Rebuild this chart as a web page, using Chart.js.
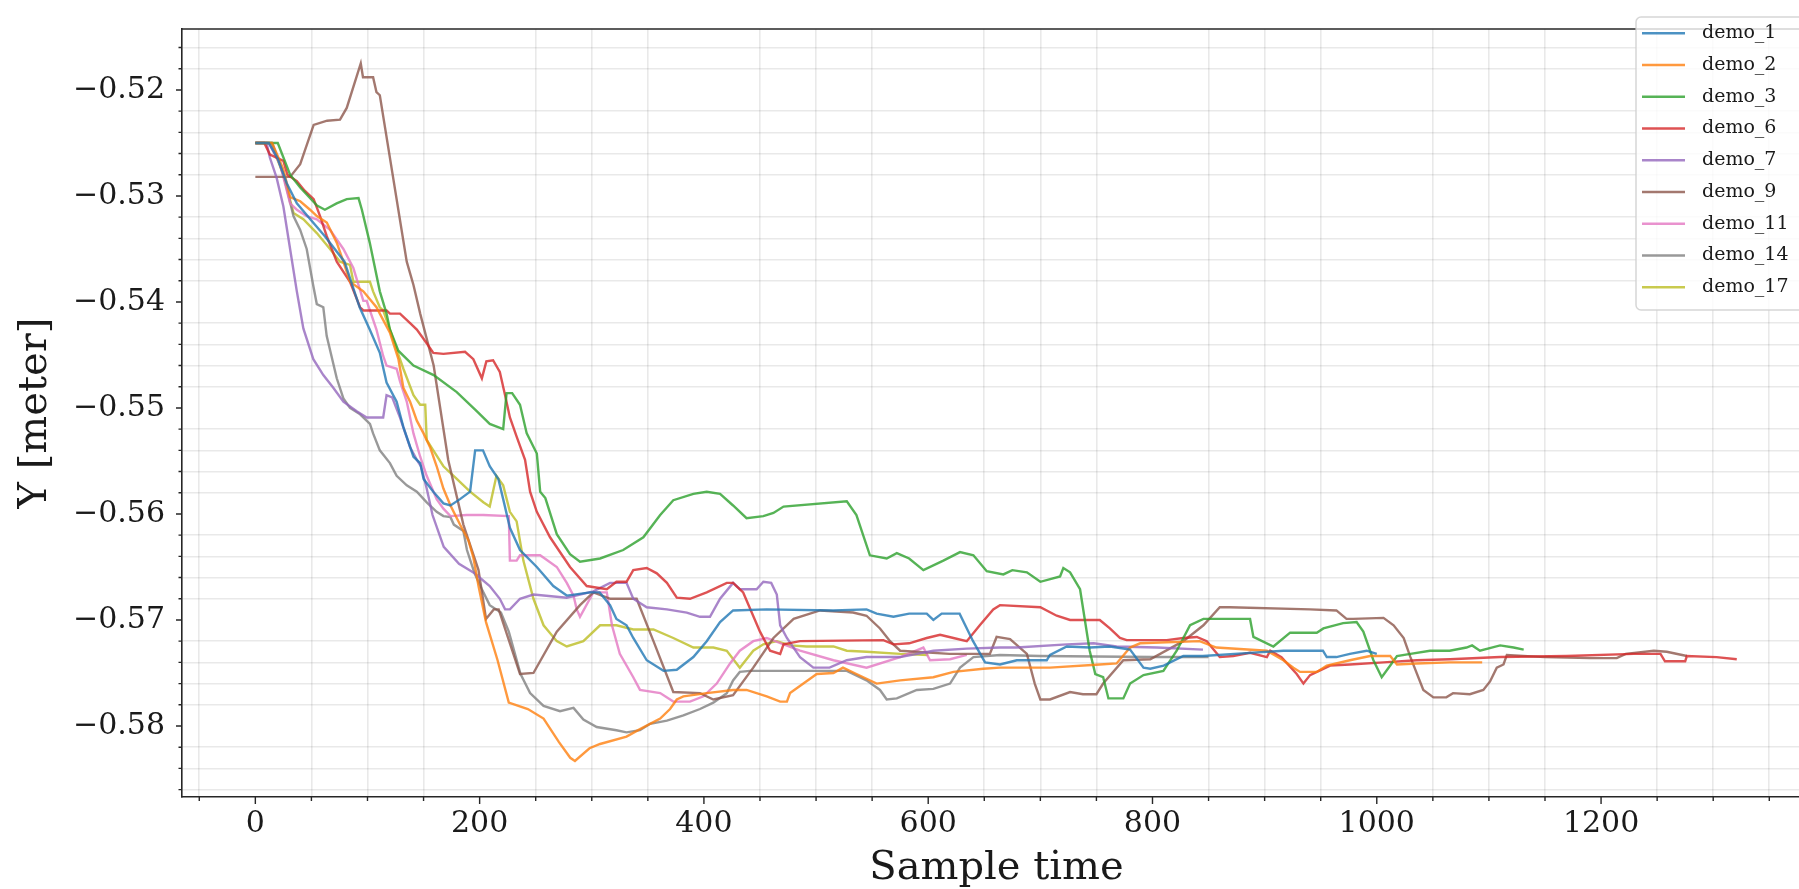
<!DOCTYPE html>
<html>
<head>
<meta charset="utf-8">
<title>Y position per demo</title>
<script src="https://cdn.jsdelivr.net/npm/chart.js@4.4.1/dist/chart.umd.min.js"></script>
<style>
  html, body { margin: 0; padding: 0; overflow: hidden; background: #ffffff; }
  #wrap { position: relative; width: 1811px; height: 889px; }
</style>
</head>
<body>
<div id="wrap"><canvas id="chart"></canvas></div>
<script>
// ---- tick labels ----
const xTickLabels = [0, 200, 400, 600, 800, 1000, 1200];
const yTickLabels = [-0.52, -0.53, -0.54, -0.55, -0.56, -0.57, -0.58];

// ---- series (sample time, Y in metres) ----
const demo1X = [0, 12, 20, 28, 37, 49, 62, 79.5, 93, 102, 111, 117, 126, 132, 141, 147, 150, 158.7, 167.7, 174, 182.5, 191.5, 196, 203, 209, 216.7, 221, 227, 236, 251, 265.7, 277.7, 298.5, 307, 316.3, 322, 331, 337, 349, 364, 375.8, 390.6, 402.5, 414.4, 426, 456, 515.5, 545, 554, 569, 583, 598.7, 604.6, 612, 628, 640, 650.7, 664, 679, 705.7, 708.6, 723.6, 744, 762, 780, 792, 798, 810, 827.5, 845, 887, 916.7, 946.5, 952, 955.4, 964, 976, 991, 1000];
const demo1Y = [-0.525, -0.525, -0.5265, -0.5288, -0.5307, -0.5322, -0.5338, -0.5362, -0.5405, -0.5426, -0.5448, -0.5476, -0.5494, -0.5518, -0.5546, -0.5552, -0.5567, -0.5579, -0.5590, -0.5592, -0.5586, -0.5579, -0.5540, -0.5540, -0.5555, -0.5567, -0.5586, -0.5613, -0.5634, -0.5650, -0.5668, -0.5677, -0.5674, -0.5674, -0.5686, -0.5699, -0.5705, -0.5717, -0.5738, -0.5748, -0.5747, -0.5735, -0.5720, -0.5702, -0.5691, -0.5690, -0.5691, -0.5690, -0.5694, -0.5697, -0.5694, -0.5694, -0.5700, -0.5694, -0.5694, -0.5720, -0.5740, -0.5742, -0.5738, -0.5738, -0.5733, -0.5725, -0.5726, -0.5725, -0.5728, -0.5745, -0.5746, -0.5743, -0.5734, -0.5734, -0.5731, -0.5729, -0.5729, -0.5729, -0.5735, -0.5735, -0.5732, -0.5729, -0.5732];

const demo2X = [0, 15, 25, 31, 40, 48.8, 54.8, 63.7, 72.6, 78.5, 84.4, 96.3, 108, 111, 120, 127.6, 132, 138, 144, 150, 155.8, 161.7, 167.7, 174, 182.5, 190, 194.4, 199, 205.7, 216, 226, 243, 257, 270.6, 280.8, 285, 298, 307.4, 331, 343, 361, 369.8, 375.8, 381.7, 402.5, 426, 438, 456, 468, 474, 476.8, 488.7, 500.6, 515.5, 524, 536, 554, 575, 604.6, 622.5, 649, 664, 708.6, 753, 768, 780, 789, 842, 857, 902, 916.7, 925.6, 931.6, 946.5, 955.4, 976, 994, 1012, 1018, 1035.6, 1065, 1094];
const demo2Y = [-0.525, -0.525, -0.5275, -0.5301, -0.5305, -0.5313, -0.5319, -0.5325, -0.5344, -0.5362, -0.5381, -0.5390, -0.5405, -0.5411, -0.5429, -0.5454, -0.5481, -0.5494, -0.5512, -0.5524, -0.5537, -0.5555, -0.5576, -0.5592, -0.5610, -0.5625, -0.5641, -0.5668, -0.5702, -0.5738, -0.5778, -0.5784, -0.5793, -0.5815, -0.5830, -0.5833, -0.5821, -0.5817, -0.5810, -0.5803, -0.5793, -0.5784, -0.5775, -0.5772, -0.5769, -0.5766, -0.5766, -0.5772, -0.5777, -0.5777, -0.5769, -0.5760, -0.5751, -0.5750, -0.5745, -0.5751, -0.5760, -0.5757, -0.5754, -0.5749, -0.5746, -0.5745, -0.5745, -0.5742, -0.5741, -0.5726, -0.5722, -0.5720, -0.5726, -0.5729, -0.5738, -0.5745, -0.5749, -0.5749, -0.5743, -0.5738, -0.5734, -0.5734, -0.5742, -0.5741, -0.5740, -0.5740];

const demo3X = [0, 20, 31, 40, 55, 62, 72.5, 81.5, 92, 95, 102, 111, 117, 120, 127.5, 141, 159, 179.6, 197.4, 209, 221, 224, 229, 236, 242, 251, 254, 258.6, 268.8, 280.6, 289.5, 307.4, 328, 346, 361, 372.7, 390.6, 402.5, 414.4, 426, 438, 453, 462, 471, 527.4, 536, 548, 563, 572, 583, 595.7, 613.5, 628.4, 640.3, 652.2, 667, 675, 688, 700, 717.6, 720.5, 726.5, 735.4, 744, 749, 756, 760.7, 774, 780, 792, 809.7, 821.6, 833.5, 845.4, 887, 890, 907.8, 922.7, 946.5, 952.4, 970, 982, 988, 997, 1004.4, 1012, 1018, 1030, 1047.5, 1065, 1080, 1085, 1092, 1110, 1122, 1131];
const demo3Y = [-0.525, -0.525, -0.5280, -0.5292, -0.5309, -0.5313, -0.5307, -0.5303, -0.5302, -0.5313, -0.5344, -0.5390, -0.5411, -0.5426, -0.5446, -0.5460, -0.5469, -0.5485, -0.5503, -0.5515, -0.5520, -0.5486, -0.5486, -0.5497, -0.5524, -0.5543, -0.5579, -0.5585, -0.5619, -0.5638, -0.5645, -0.5642, -0.5634, -0.5622, -0.5601, -0.5587, -0.5581, -0.5579, -0.5581, -0.5592, -0.5604, -0.5602, -0.5599, -0.5593, -0.5588, -0.5601, -0.5639, -0.5642, -0.5637, -0.5642, -0.5653, -0.5644, -0.5636, -0.5639, -0.5654, -0.5657, -0.5653, -0.5655, -0.5664, -0.5659, -0.5651, -0.5655, -0.5671, -0.5729, -0.5751, -0.5754, -0.5774, -0.5774, -0.5760, -0.5752, -0.5748, -0.5729, -0.5705, -0.5699, -0.5699, -0.5716, -0.5725, -0.5712, -0.5712, -0.5708, -0.5703, -0.5702, -0.5711, -0.5738, -0.5754, -0.5743, -0.5734, -0.5732, -0.5729, -0.5729, -0.5726, -0.5724, -0.5729, -0.5724, -0.5726, -0.5728];

const demo6X = [0, 8, 13, 25, 28.6, 37, 44, 52, 57.7, 63.7, 72.6, 84.4, 93.4, 96.3, 117, 120, 129, 138, 144, 152.8, 158.7, 167.7, 187, 194.4, 202, 206, 212, 218, 222.7, 227, 233, 240.5, 245, 251, 262.8, 280.6, 295.5, 313.4, 322, 331, 337, 349, 358, 367, 375.8, 387.6, 402.5, 420.4, 426, 435, 450, 459, 468, 471, 485.7, 560, 569, 583, 598.7, 610.6, 622.5, 634.4, 646, 658, 664, 700, 714.6, 726.5, 753, 762, 771, 777, 812.7, 827.5, 839.5, 848.4, 860, 872, 887, 902, 905, 915, 928.6, 934.6, 940.5, 958.4, 976, 1006, 1035.6, 1065.4, 1110, 1169.5, 1229, 1253, 1257, 1275, 1276.5, 1303, 1321];
const demo6Y = [-0.525, -0.525, -0.5261, -0.5267, -0.5280, -0.5286, -0.5295, -0.5303, -0.5319, -0.5338, -0.5362, -0.5381, -0.5405, -0.5408, -0.5408, -0.5411, -0.5411, -0.5420, -0.5426, -0.5439, -0.5448, -0.5449, -0.5447, -0.5454, -0.5472, -0.5456, -0.5455, -0.5466, -0.5488, -0.5509, -0.5527, -0.5549, -0.5579, -0.5598, -0.5622, -0.5650, -0.5668, -0.5671, -0.5664, -0.5664, -0.5653, -0.5651, -0.5656, -0.5665, -0.5679, -0.5680, -0.5674, -0.5665, -0.5665, -0.5674, -0.5711, -0.5729, -0.5732, -0.5723, -0.5720, -0.5719, -0.5723, -0.5722, -0.5717, -0.5714, -0.5717, -0.5720, -0.5705, -0.5690, -0.5686, -0.5688, -0.5696, -0.5700, -0.5700, -0.5708, -0.5717, -0.5719, -0.5719, -0.5717, -0.5716, -0.5720, -0.5735, -0.5734, -0.5731, -0.5735, -0.5729, -0.5735, -0.5751, -0.5760, -0.5752, -0.5743, -0.5742, -0.5740, -0.5738, -0.5737, -0.5735, -0.5734, -0.5732, -0.5732, -0.5739, -0.5739, -0.5734, -0.5735, -0.5737];

const demo7X = [0, 10, 13, 19, 25, 31, 37, 42.8, 51.7, 60.6, 69.5, 78.5, 90.4, 99.3, 114, 117, 122, 129, 138, 144, 147.7, 152.8, 158, 168, 181.6, 195.5, 209, 218, 222.7, 227, 236, 248, 277.7, 301.4, 316.3, 331, 337, 349, 367, 384.7, 396.5, 405.4, 414.4, 426, 432, 447, 453, 460, 465, 468, 474, 485.7, 497.6, 512, 527.4, 545, 575, 604.6, 634.4, 664, 679, 723.6, 747.5, 768, 804, 845];
const demo7Y = [-0.525, -0.525, -0.5264, -0.5283, -0.5310, -0.5350, -0.5390, -0.5425, -0.5454, -0.5469, -0.5481, -0.5494, -0.5503, -0.5509, -0.5509, -0.5488, -0.5490, -0.5509, -0.5537, -0.5549, -0.5555, -0.5576, -0.5601, -0.5631, -0.5647, -0.5656, -0.5668, -0.5680, -0.5690, -0.5690, -0.5680, -0.5676, -0.5679, -0.5673, -0.5665, -0.5665, -0.5680, -0.5688, -0.5690, -0.5693, -0.5697, -0.5697, -0.5680, -0.5665, -0.5671, -0.5671, -0.5664, -0.5665, -0.5676, -0.5705, -0.5717, -0.5735, -0.5745, -0.5745, -0.5738, -0.5735, -0.5735, -0.5729, -0.5727, -0.5726, -0.5726, -0.5723, -0.5722, -0.5725, -0.5726, -0.5728];

const demo9X = [0, 31, 40, 52, 64, 75.5, 81.5, 94, 96, 105, 108, 111, 135, 141, 147, 159, 172, 185.5, 199, 205.7, 212.6, 217, 236, 248, 268.8, 289.5, 301.4, 316.6, 340, 355, 372.7, 396.5, 408.4, 426, 444, 462, 480, 503.6, 533, 545, 557, 566, 575, 619, 655, 661, 673, 688, 695, 700, 708.6, 726.5, 738, 750, 756, 774, 798, 827.5, 845.4, 860, 869, 940.5, 964, 973, 979, 1006, 1015, 1024, 1030, 1041.5, 1050.5, 1062, 1068, 1083, 1095, 1101, 1107, 1113, 1116, 1150, 1190, 1214, 1222, 1247, 1258.6, 1276.5];
const demo9Y = [-0.5282, -0.5282, -0.5270, -0.5233, -0.5229, -0.5228, -0.5217, -0.5175, -0.5188, -0.5188, -0.5202, -0.5205, -0.5362, -0.5384, -0.5411, -0.5460, -0.5549, -0.5610, -0.5653, -0.5699, -0.5690, -0.5690, -0.5751, -0.5750, -0.5711, -0.5686, -0.5674, -0.5680, -0.5680, -0.5720, -0.5768, -0.5769, -0.5775, -0.5771, -0.5745, -0.5717, -0.5699, -0.5691, -0.5693, -0.5696, -0.5708, -0.5720, -0.5729, -0.5732, -0.5732, -0.5716, -0.5718, -0.5732, -0.5760, -0.5775, -0.5775, -0.5768, -0.5770, -0.5770, -0.5760, -0.5738, -0.5737, -0.5720, -0.5705, -0.5688, -0.5688, -0.5690, -0.5691, -0.5699, -0.5699, -0.5698, -0.5705, -0.5717, -0.5735, -0.5766, -0.5773, -0.5773, -0.5769, -0.5770, -0.5766, -0.5758, -0.5745, -0.5742, -0.5733, -0.5735, -0.5736, -0.5736, -0.5732, -0.5729, -0.5730, -0.5734];

const demo11X = [0, 12, 22, 31, 37, 45.8, 54.8, 66.6, 78.5, 87.4, 96.3, 99.3, 108, 114, 117, 126, 129, 135, 141, 147, 152.8, 161.7, 167.7, 174, 188.5, 203.3, 226, 227, 233, 236, 254, 268.8, 277.7, 283.7, 286.6, 289.5, 301.4, 313.4, 318, 325, 337, 343, 361, 372.7, 387.6, 399.6, 411.4, 423.3, 432, 444, 456, 485.7, 515.5, 545, 575, 595.7, 601.6, 619.5, 634.4];
const demo11Y = [-0.525, -0.525, -0.5270, -0.5307, -0.5313, -0.5319, -0.5322, -0.5332, -0.5350, -0.5368, -0.5399, -0.5399, -0.5426, -0.5451, -0.5460, -0.5463, -0.5475, -0.5494, -0.5524, -0.5546, -0.5564, -0.5586, -0.5595, -0.5602, -0.5601, -0.5601, -0.5602, -0.5644, -0.5644, -0.5639, -0.5639, -0.5650, -0.5665, -0.5677, -0.5690, -0.5697, -0.5674, -0.5674, -0.5705, -0.5732, -0.5754, -0.5766, -0.5769, -0.5777, -0.5777, -0.5772, -0.5760, -0.5741, -0.5729, -0.5720, -0.5717, -0.5729, -0.5738, -0.5745, -0.5735, -0.5726, -0.5738, -0.5737, -0.5733];

const demo14X = [0, 15, 25, 34, 40, 45.8, 51.7, 54.8, 60.6, 63.6, 72.6, 78.5, 84.4, 93.4, 102.2, 105, 111, 120, 126, 135, 144, 152.8, 161.7, 167.7, 174, 177, 185.5, 188.7, 195.5, 202, 209, 219, 226, 236.5, 245, 257, 271.7, 283.7, 292.5, 304.4, 322, 331, 343, 352, 367, 381.7, 396.5, 408.4, 420.4, 426, 432, 441, 485.7, 527.4, 545, 557, 563, 572, 589.8, 604.6, 619.5, 628.4, 640.3, 664, 700, 800, 850];
const demo14Y = [-0.525, -0.525, -0.5280, -0.5319, -0.5332, -0.5350, -0.5385, -0.5402, -0.5405, -0.5432, -0.5472, -0.5491, -0.5500, -0.5506, -0.5515, -0.5524, -0.5540, -0.5552, -0.5564, -0.5573, -0.5579, -0.5589, -0.5598, -0.5602, -0.5603, -0.5610, -0.5616, -0.5634, -0.5656, -0.5671, -0.5686, -0.5693, -0.5711, -0.5751, -0.5769, -0.5781, -0.5786, -0.5783, -0.5794, -0.5801, -0.5804, -0.5806, -0.5804, -0.5798, -0.5795, -0.5790, -0.5784, -0.5778, -0.5769, -0.5757, -0.5749, -0.5748, -0.5748, -0.5748, -0.5757, -0.5766, -0.5775, -0.5774, -0.5766, -0.5765, -0.5760, -0.5745, -0.5735, -0.5733, -0.5734, -0.5735, -0.5735];

const demo17X = [0, 14, 25, 34, 42.8, 54.8, 66.6, 75.5, 84.4, 87.4, 102.2, 105, 111, 114, 120, 126, 132, 141, 147, 151.5, 152.8, 158.7, 167.7, 179.6, 191.5, 203.3, 209, 215, 221, 227, 233, 239, 248, 257, 268.8, 277.7, 292.5, 307.4, 322, 337, 355, 372.7, 390.6, 408.4, 420.4, 432, 444, 453, 465, 477, 491.6, 515.5, 527.4, 545, 575, 600];
const demo17Y = [-0.525, -0.525, -0.5280, -0.5316, -0.5322, -0.5335, -0.5350, -0.5362, -0.5365, -0.5381, -0.5381, -0.5390, -0.5405, -0.5408, -0.5426, -0.5445, -0.5463, -0.5488, -0.5497, -0.5497, -0.5530, -0.5540, -0.5555, -0.5567, -0.5579, -0.5589, -0.5593, -0.5564, -0.5573, -0.5598, -0.5607, -0.5644, -0.5680, -0.5705, -0.5720, -0.5725, -0.5720, -0.5705, -0.5705, -0.5709, -0.5709, -0.5717, -0.5726, -0.5726, -0.5729, -0.5745, -0.5729, -0.5723, -0.5720, -0.5724, -0.5725, -0.5725, -0.5729, -0.5730, -0.5732, -0.5733];

const seriesNames = ['demo_1', 'demo_2', 'demo_3', 'demo_6', 'demo_7', 'demo_9', 'demo_11', 'demo_14', 'demo_17'];
const seriesX = [demo1X, demo2X, demo3X, demo6X, demo7X, demo9X, demo11X, demo14X, demo17X];
const seriesY = [demo1Y, demo2Y, demo3Y, demo6Y, demo7Y, demo9Y, demo11Y, demo14Y, demo17Y];
const seriesColors = ['#1f77b4', '#ff7f0e', '#2ca02c', '#d62728', '#9467bd', '#8c564b', '#e377c2', '#7f7f7f', '#bcbd22'];

// ---- helpers ----
function withAlpha(hex, a) {
  const n = parseInt(hex.slice(1), 16);
  return `rgba(${(n >> 16) & 255}, ${(n >> 8) & 255}, ${n & 255}, ${a})`;
}
const LINE_ALPHA = 0.8;
const SERIF = '"DejaVu Serif", "Liberation Serif", serif';

// minor ticks every 50 samples and every 0.002 m; majors carry the labels
const xTicks = [];
for (let v = -50; v <= 1350; v += 50) xTicks.push(v);
const yTicks = [];
for (let k = -293; k <= -258; k++) yTicks.push(k / 500);
const isMajorX = v => xTickLabels.includes(v);
const isMajorY = v => yTickLabels.some(t => Math.abs(t - v) < 1e-9);

const datasets = seriesNames.map((name, i) => ({
  label: name,
  data: seriesX[i].map((x, j) => ({ x, y: seriesY[i][j] })),
  borderColor: withAlpha(seriesColors[i], LINE_ALPHA),
  backgroundColor: withAlpha(seriesColors[i], LINE_ALPHA),
  borderWidth: 2.4,
  pointRadius: 0,
  showLine: true,
  tension: 0,
  fill: false
}));

// frame: top spine plus major/minor tick marks drawn from the scales
const frame = {
  id: 'frame',
  afterDraw(chart) {
    const { ctx, chartArea, scales } = chart;
    ctx.save();
    ctx.strokeStyle = '#262626';
    ctx.lineWidth = 1.6;
    ctx.beginPath();
    ctx.moveTo(chartArea.left, chartArea.top);
    ctx.lineTo(chartArea.right + 2, chartArea.top);
    ctx.stroke();

    ctx.lineWidth = 1.4;
    ctx.beginPath();
    scales.x.ticks.forEach(t => {
      const px = scales.x.getPixelForValue(t.value);
      const len = isMajorX(t.value) ? 7 : 4;
      ctx.moveTo(px, chartArea.bottom);
      ctx.lineTo(px, chartArea.bottom + len);
    });
    scales.y.ticks.forEach(t => {
      const py = scales.y.getPixelForValue(t.value);
      const len = isMajorY(t.value) ? 6 : 3.5;
      ctx.moveTo(chartArea.left, py);
      ctx.lineTo(chartArea.left - len, py);
    });
    ctx.stroke();
    ctx.restore();
  }
};

// boxed legend in the upper right corner of the plot
const legendBox = {
  id: 'legendBox',
  afterDraw(chart) {
    const ctx = chart.ctx;
    const left = 1636, top = 17, width = 200, height = 293, r = 5;
    ctx.save();
    ctx.beginPath();
    ctx.moveTo(left + r, top);
    ctx.lineTo(left + width - r, top);
    ctx.arcTo(left + width, top, left + width, top + r, r);
    ctx.lineTo(left + width, top + height - r);
    ctx.arcTo(left + width, top + height, left + width - r, top + height, r);
    ctx.lineTo(left + r, top + height);
    ctx.arcTo(left, top + height, left, top + height - r, r);
    ctx.lineTo(left, top + r);
    ctx.arcTo(left, top, left + r, top, r);
    ctx.closePath();
    ctx.fillStyle = 'rgba(255,255,255,0.8)';
    ctx.fill();
    ctx.strokeStyle = 'rgba(204,204,204,0.8)';
    ctx.lineWidth = 1.5;
    ctx.stroke();

    ctx.font = '19px ' + SERIF;
    ctx.textBaseline = 'middle';
    ctx.textAlign = 'left';
    chart.data.datasets.forEach((ds, i) => {
      const y = 33.3 + 31.75 * i;
      ctx.strokeStyle = ds.borderColor;
      ctx.lineWidth = 2.4;
      ctx.beginPath();
      ctx.moveTo(1642, y);
      ctx.lineTo(1685, y);
      ctx.stroke();
      ctx.fillStyle = '#1a1a1a';
      ctx.fillText(ds.label, 1702, y);
    });
    ctx.restore();
  }
};

new Chart(document.getElementById('chart'), {
  type: 'scatter',
  data: { datasets },
  plugins: [frame, legendBox],
  options: {
    responsive: true,
    maintainAspectRatio: false,
    devicePixelRatio: 1,
    animation: false,
    layout: { padding: { top: 7, left: 0, right: 0, bottom: 0 } },
    plugins: {
      legend: { display: false },
      tooltip: { enabled: false }
    },
    scales: {
      x: {
        type: 'linear',
        min: -65.4,
        max: 1387.2,
        afterBuildTicks: scale => { scale.ticks = xTicks.map(value => ({ value })); },
        afterFit: scale => { scale.height = 92; },
        ticks: {
          autoSkip: false,
          maxRotation: 0,
          padding: 2,
          color: '#1a1a1a',
          font: { family: SERIF, size: 30 },
          callback: v => (isMajorX(v) ? String(v) : '')
        },
        grid: {
          color: ctx => (ctx.tick && isMajorX(ctx.tick.value) ? 'rgba(0,0,0,0)' : 'rgba(0,0,0,0.085)'),
          lineWidth: 1.6,
          drawTicks: true,
          tickLength: 7,
          tickColor: 'rgba(0,0,0,0)'
        },
        border: { display: true, color: '#262626', width: 1.6 },
        title: {
          display: true,
          text: 'Sample time',
          color: '#1a1a1a',
          font: { family: SERIF, size: 40, lineHeight: 1 },
          padding: { top: 0, bottom: 0 }
        }
      },
      y: {
        type: 'linear',
        min: -0.5867,
        max: -0.51425,
        afterBuildTicks: scale => { scale.ticks = yTicks.map(value => ({ value })); },
        afterFit: scale => { scale.width = 182; },
        ticks: {
          autoSkip: false,
          padding: 11,
          color: '#1a1a1a',
          font: { family: SERIF, size: 30 },
          callback: v => (isMajorY(v) ? '\u2212' + Math.abs(v).toFixed(2) : '')
        },
        grid: {
          color: ctx => (ctx.tick && isMajorY(ctx.tick.value) ? 'rgba(0,0,0,0)' : 'rgba(0,0,0,0.085)'),
          lineWidth: 1.6,
          drawTicks: true,
          tickLength: 6,
          tickColor: 'rgba(0,0,0,0)'
        },
        border: { display: true, color: '#262626', width: 1.6 },
        title: {
          display: true,
          text: 'Y [meter]',
          color: '#1a1a1a',
          font: { family: SERIF, size: 40 },
          padding: { top: 12, bottom: 0 }
        }
      }
    }
  }
});
</script>
</body>
</html>
